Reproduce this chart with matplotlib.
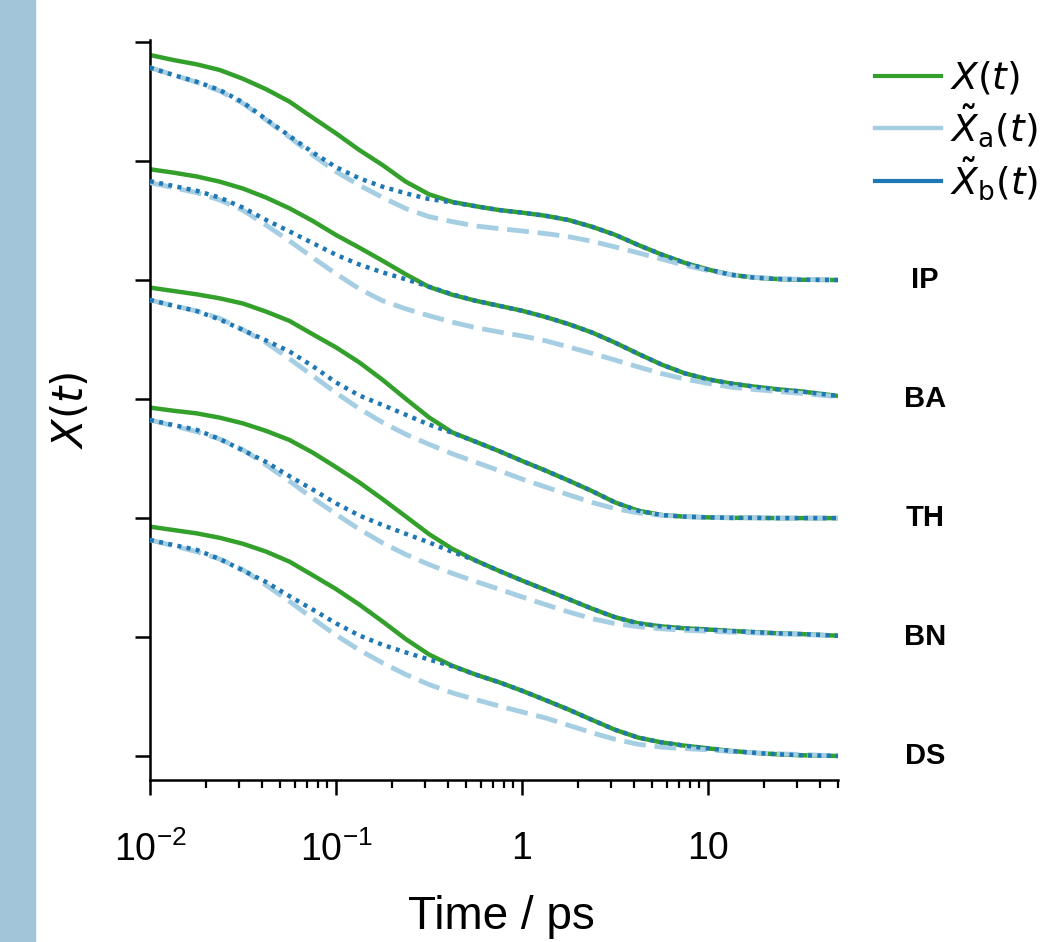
import matplotlib
matplotlib.use('Agg')
import matplotlib.pyplot as plt
from matplotlib.lines import Line2D
from matplotlib.patches import Rectangle
import numpy as np

plt.rcParams['font.family'] = ['Liberation Sans', 'DejaVu Sans']
plt.rcParams['mathtext.fontset'] = 'dejavusans'

# time grid (ps), 1/8 decade steps
time_ps = [0.01, 0.01334, 0.01778, 0.02371, 0.03162, 0.04217, 0.05623, 0.07499,
           0.1, 0.1334, 0.1778, 0.2371, 0.3162, 0.4217, 0.5623, 0.7499,
           1.0, 1.334, 1.778, 2.371, 3.162, 4.217, 5.623, 7.499,
           10.0, 13.34, 17.78, 23.71, 31.62, 50.0]

systems = ['IP', 'BA', 'TH', 'BN', 'DS']
offsets = [2.0, 1.5, 1.0, 0.5, 0.0]

# X(t)
x_full = {
    'IP': [0.945, 0.924, 0.906, 0.882, 0.845, 0.801, 0.749, 0.682,
           0.616, 0.546, 0.483, 0.413, 0.360, 0.328, 0.310, 0.294,
           0.283, 0.270, 0.252, 0.224, 0.190, 0.147, 0.107, 0.072,
           0.044, 0.022, 0.010, 0.004, 0.001, 0.0],
    'BA': [0.965, 0.951, 0.935, 0.913, 0.884, 0.846, 0.801, 0.748,
           0.689, 0.636, 0.581, 0.524, 0.471, 0.438, 0.413, 0.392,
           0.371, 0.345, 0.315, 0.280, 0.237, 0.190, 0.145, 0.108,
           0.083, 0.065, 0.052, 0.041, 0.032, 0.013],
    'TH': [0.968, 0.954, 0.940, 0.923, 0.901, 0.867, 0.828, 0.772,
           0.717, 0.654, 0.581, 0.501, 0.423, 0.360, 0.321, 0.282,
           0.240, 0.200, 0.158, 0.114, 0.066, 0.031, 0.013, 0.006,
           0.003, 0.001, 0.001, 0.0, 0.0, 0.0],
    'BN': [0.964, 0.951, 0.940, 0.922, 0.898, 0.866, 0.828, 0.775,
           0.714, 0.650, 0.580, 0.507, 0.433, 0.371, 0.322, 0.279,
           0.238, 0.199, 0.160, 0.120, 0.084, 0.058, 0.045, 0.037,
           0.032, 0.026, 0.021, 0.016, 0.013, 0.006],
    'DS': [0.964, 0.950, 0.936, 0.917, 0.892, 0.859, 0.817, 0.760,
           0.702, 0.637, 0.566, 0.492, 0.427, 0.380, 0.343, 0.311,
           0.275, 0.236, 0.196, 0.153, 0.111, 0.078, 0.058, 0.044,
           0.033, 0.022, 0.014, 0.008, 0.004, 0.001],
}

# X~_a(t)
x_a = {
    'IP': [0.892, 0.861, 0.831, 0.794, 0.742, 0.672, 0.600, 0.525,
           0.455, 0.398, 0.347, 0.300, 0.266, 0.245, 0.227, 0.216,
           0.206, 0.195, 0.182, 0.163, 0.139, 0.114, 0.088, 0.062,
           0.040, 0.022, 0.011, 0.006, 0.003, 0.0],
    'BA': [0.909, 0.888, 0.867, 0.836, 0.793, 0.730, 0.664, 0.594,
           0.526, 0.463, 0.413, 0.379, 0.350, 0.323, 0.300, 0.282,
           0.265, 0.245, 0.219, 0.192, 0.164, 0.135, 0.107, 0.084,
           0.066, 0.050, 0.040, 0.032, 0.024, 0.010],
    'TH': [0.916, 0.892, 0.870, 0.839, 0.791, 0.737, 0.669, 0.598,
           0.526, 0.460, 0.402, 0.352, 0.310, 0.270, 0.235, 0.200,
           0.164, 0.131, 0.098, 0.066, 0.040, 0.022, 0.012, 0.006,
           0.003, 0.001, 0.001, 0.0, 0.0, 0.0],
    'BN': [0.912, 0.888, 0.863, 0.832, 0.787, 0.723, 0.655, 0.584,
           0.517, 0.453, 0.396, 0.347, 0.305, 0.268, 0.234, 0.202,
           0.169, 0.137, 0.106, 0.078, 0.057, 0.044, 0.035, 0.029,
           0.025, 0.021, 0.018, 0.014, 0.011, 0.006],
    'DS': [0.908, 0.884, 0.859, 0.828, 0.783, 0.718, 0.650, 0.578,
           0.508, 0.446, 0.392, 0.343, 0.301, 0.266, 0.238, 0.211,
           0.186, 0.161, 0.130, 0.099, 0.071, 0.050, 0.038, 0.032,
           0.027, 0.020, 0.014, 0.010, 0.007, 0.001],
}

# X~_b(t) up to where it joins X(t); afterwards it lies on X(t)
x_b_early = {
    'IP': [0.892, 0.861, 0.833, 0.798, 0.746, 0.675, 0.605, 0.536,
           0.474, 0.427, 0.392, 0.364, 0.340, 0.326],
    'BA': [0.915, 0.895, 0.875, 0.846, 0.804, 0.752, 0.704, 0.655,
           0.606, 0.565, 0.532, 0.503, 0.472, 0.440],
    'TH': [0.916, 0.892, 0.870, 0.834, 0.790, 0.746, 0.700, 0.638,
           0.570, 0.515, 0.475, 0.434, 0.393, 0.358],
    'BN': [0.912, 0.891, 0.871, 0.832, 0.784, 0.735, 0.676, 0.620,
           0.562, 0.511, 0.471, 0.434, 0.398, 0.358],
    'DS': [0.908, 0.887, 0.867, 0.828, 0.780, 0.731, 0.672, 0.616,
           0.558, 0.507, 0.468, 0.436, 0.406, 0.378],
}
x_b = {k: v + x_full[k][len(v):] for k, v in x_b_early.items()}

green = '#33a02c'
light_blue = '#a6cee3'
dark_blue = '#1f78b4'

fig = plt.figure(figsize=(10.54, 9.42), dpi=100)
ax = fig.add_axes([150 / 1054, 1 - 780 / 942, 688 / 1054, 740 / 942])

# light blue strip on the left edge
fig.patches.append(Rectangle((0, 0), 35 / 1054, 1, transform=fig.transFigure,
                             color='#a3c5da', zorder=0))

for name, off in zip(systems, offsets):
    ax.plot(time_ps, np.array(x_full[name]) + off, color=green, lw=3.2, zorder=2)
    ax.plot(time_ps, np.array(x_a[name]) + off, color=light_blue, lw=3.5,
            dashes=(4.5, 1.8), zorder=3)
    ax.plot(time_ps, np.array(x_b[name]) + off, color=dark_blue, lw=3.2,
            dashes=(0.9, 1.2), zorder=4)
    ax.text(1.126, off, name, transform=ax.get_yaxis_transform(), ha='center',
            va='center', fontsize=21, fontweight='bold', clip_on=False)

ax.set_xscale('log')
ax.set_xlim(0.01, 50)
ax.set_ylim(-0.1, 3.008)
ax.set_yticks(np.arange(0, 3.01, 0.5))
ax.set_yticklabels([])
ax.set_xticks([0.01, 0.1, 1, 10])
ax.set_xticklabels([r'$\mathregular{10^{-2}}$', r'$\mathregular{10^{-1}}$', '1', '10'])

for side in ['top', 'right']:
    ax.spines[side].set_visible(False)
for side in ['left', 'bottom']:
    ax.spines[side].set_linewidth(1.8)

ax.tick_params(which='major', length=11, width=1.8, labelsize=27, pad=26)
ax.tick_params(which='minor', length=6, width=1.6)
ax.tick_params(axis='y', which='minor', left=False)

ax.set_xlabel('Time / ps', fontsize=33)
ax.xaxis.set_label_coords(0.51, -0.155)
ax.set_ylabel(r'$X(t)$', fontsize=30)
ax.yaxis.set_label_coords(-0.085, 0.5)

handles = [Line2D([], [], color=green, lw=3.0),
           Line2D([], [], color=light_blue, lw=3.2),
           Line2D([], [], color=dark_blue, lw=3.0)]
labels = [r'$X(t)$', r'$\tilde{X}_{\mathrm{a}}(t)$', r'$\tilde{X}_{\mathrm{b}}(t)$']
fig.legend(handles, labels, loc='upper left', bbox_to_anchor=(860 / 1054, 1 - 45 / 942),
           frameon=False, fontsize=27, handlelength=1.75, handletextpad=0.25,
           labelspacing=0.15, borderaxespad=0, borderpad=0.4)

fig.savefig('out.png', dpi=100)
